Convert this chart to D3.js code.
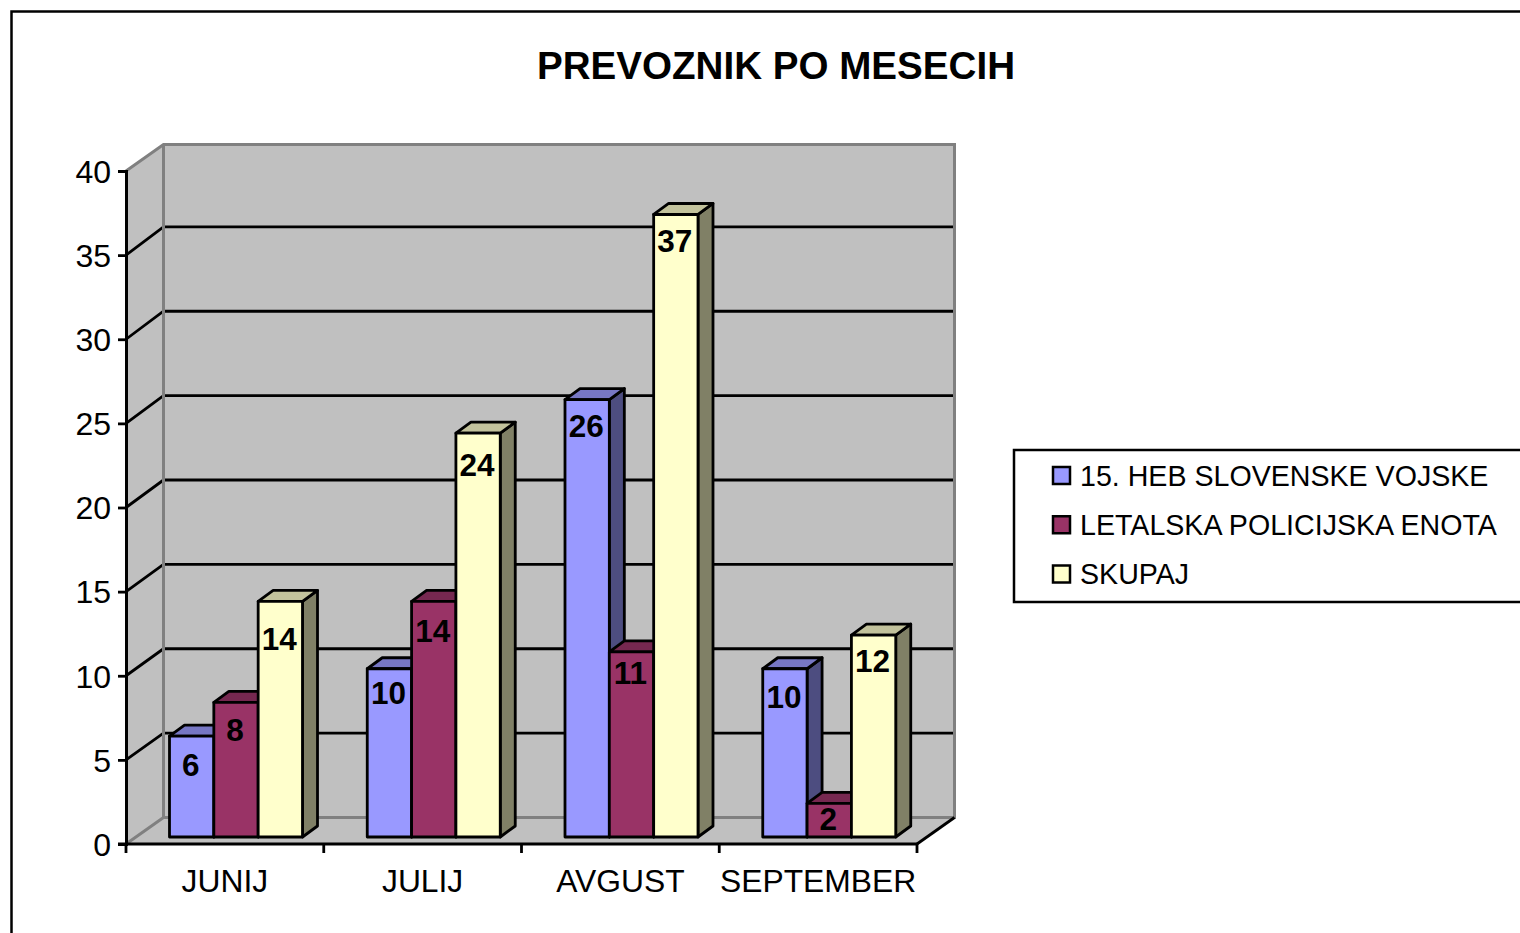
<!DOCTYPE html>
<html>
<head>
<meta charset="utf-8">
<script src="https://cdn.jsdelivr.net/npm/d3@7"></script>
<style>
  html, body { margin: 0; padding: 0; background: #fff; overflow: hidden; }
  text { font-family: "Liberation Sans", Arial, sans-serif; fill: #000; }
</style>
</head>
<body>
<div id="chart"></div>
<script>
var months = ["JUNIJ", "JULIJ", "AVGUST", "SEPTEMBER"];
var seriesNames = ["15. HEB SLOVENSKE VOJSKE", "LETALSKA POLICIJSKA ENOTA", "SKUPAJ"];
var heb = [6, 10, 26, 10];
var policija = [8, 14, 11, 2];
var skupaj = [14, 24, 37, 12];
var yTicks = [0, 5, 10, 15, 20, 25, 30, 35, 40];

function drawChart() {
    var width = 1520, height = 933;
    var seriesValues = [heb, policija, skupaj];

    var front = ["#9999ff", "#993366", "#ffffcc"];
    var topFace = ["#7777c4", "#762850", "#c2c29c"];
    var sideFace = ["#4d4d80", "#4d1a33", "#808066"];

    var svg = d3.select("#chart").append("svg")
        .attr("width", width)
        .attr("height", height)
        .style("display", "block");

    // outer chart border, runs off the right and bottom of the picture
    svg.append("path")
        .attr("d", "M11.5," + (height + 5) + "V11.5H" + (width + 5))
        .attr("fill", "none").attr("stroke", "#000").attr("stroke-width", 2.5);

    svg.append("text")
        .attr("x", 776).attr("y", 79)
        .attr("text-anchor", "middle")
        .attr("font-size", 38.6).attr("font-weight", "bold")
        .text("PREVOZNIK PO MESECIH");

    var x = d3.scaleBand().domain(months).range([126, 917]);
    var y = d3.scaleLinear().domain([0, 40]).range([844, 171]);
    // the back wall is not quite the same height as the axis in the original
    var yBack = d3.scaleLinear().domain([0, 40]).range([817.5, 142.5]);

    var wallDx = 37.5, wallTop = 144.5;
    var left = x.range()[0], right = x.range()[1];
    var backLeft = left + wallDx, backRight = right + wallDx;

    // walls and floor
    var poly = function (pts) { return "M" + pts.map(function (p) { return p.join(","); }).join("L") + "Z"; };
    svg.append("path")
        .attr("d", poly([[left, y(40)], [backLeft, wallTop], [backLeft, yBack(0)], [left, y(0)]]))
        .attr("fill", "#c0c0c0");
    svg.append("path")
        .attr("d", poly([[left, y(0)], [backLeft, yBack(0)], [backRight, yBack(0)], [right, y(0)]]))
        .attr("fill", "#c0c0c0");
    svg.append("rect")
        .attr("x", backLeft).attr("y", wallTop)
        .attr("width", right - left).attr("height", yBack(0) - wallTop)
        .attr("fill", "#c0c0c0");

    // gridlines, along the side wall and across the back wall
    var grid = yTicks.filter(function (t) { return t > 0 && t < 40; });
    svg.append("g").selectAll("path").data(grid).join("path")
        .attr("d", function (t) {
            return "M" + left + "," + y(t) + "L" + backLeft + "," + yBack(t) + "H" + backRight;
        })
        .attr("fill", "none").attr("stroke", "#000").attr("stroke-width", 2.8);

    // grey wall edges
    svg.append("path")
        .attr("d", "M" + left + "," + y(40) + "L" + backLeft + "," + wallTop +
            "H" + backRight + "V" + yBack(0) + "H" + backLeft + "V" + wallTop +
            "M" + left + "," + y(0) + "L" + backLeft + "," + yBack(0))
        .attr("fill", "none").attr("stroke", "#808080").attr("stroke-width", 3);
    svg.append("path")
        .attr("d", "M" + right + "," + y(0) + "L" + backRight + "," + yBack(0))
        .attr("fill", "none").attr("stroke", "#000").attr("stroke-width", 2.8);

    // bars sit a bit inside the floor and are 15 by 11 deep
    var barDy = -7, depthX = 15, depthY = -11;
    var sub = d3.scaleBand().domain(d3.range(3)).range([43.5, 176.5]);

    var bars = [];
    months.forEach(function (m, i) {
        seriesValues.forEach(function (vals, s) {
            bars.push({ month: m, s: s, value: vals[i] });
        });
    });

    var g = svg.append("g")
        .attr("stroke", "#000").attr("stroke-width", 2.8).attr("stroke-linejoin", "round");
    var bar = g.selectAll("g").data(bars).join("g");
    var bx = function (d) { return x(d.month) + sub(d.s); };
    var by = function (d) { return y(d.value) + barDy; };
    var base = y(0) + barDy;

    bar.append("path")
        .attr("fill", function (d) { return sideFace[d.s]; })
        .attr("d", function (d) {
            var r = bx(d) + sub.bandwidth();
            return poly([[r, by(d)], [r + depthX, by(d) + depthY], [r + depthX, base + depthY], [r, base]]);
        });
    bar.append("path")
        .attr("fill", function (d) { return topFace[d.s]; })
        .attr("d", function (d) {
            var r = bx(d) + sub.bandwidth();
            return poly([[bx(d), by(d)], [bx(d) + depthX, by(d) + depthY], [r + depthX, by(d) + depthY], [r, by(d)]]);
        });
    bar.append("rect")
        .attr("fill", function (d) { return front[d.s]; })
        .attr("x", bx)
        .attr("y", by)
        .attr("width", sub.bandwidth())
        .attr("height", function (d) { return base - by(d); });

    // value labels, the drop below each bar top differs by bar in the original
    var labelDrop = [29, 27, 37, 24, 29, 31, 26, 21, 26, 28, 15, 26];
    svg.append("g").selectAll("text").data(bars).join("text")
        .attr("x", function (d) { return bx(d) + sub.bandwidth() / 2 - 1; })
        .attr("y", function (d, i) { return by(d) + labelDrop[i]; })
        .attr("dy", "0.36em")
        .attr("text-anchor", "middle")
        .attr("font-size", 31.5).attr("font-weight", "bold")
        .text(function (d) { return d.value; });

    // axes
    var yAxis = d3.axisLeft(y).tickValues(yTicks).tickSize(8).tickPadding(7);
    var xAxis = d3.axisBottom(x).tickSize(0).tickPadding(25);

    var ya = svg.append("g").attr("transform", "translate(" + left + ",0)").call(yAxis);
    var xa = svg.append("g").attr("transform", "translate(0," + y(0) + ")").call(xAxis);
    xa.selectAll(".domain").remove();

    // ticks on the band edges rather than band centres
    svg.append("path")
        .attr("d", "M" + (left - 8) + "," + y(0) + "H" + right)
        .attr("stroke", "#000").attr("stroke-width", 3).attr("fill", "none");
    svg.append("g").selectAll("line").data(d3.range(5)).join("line")
        .attr("x1", function (i) { return left + i * x.step(); })
        .attr("x2", function (i) { return left + i * x.step(); })
        .attr("y1", y(0)).attr("y2", y(0) + 9)
        .attr("stroke", "#000").attr("stroke-width", 2.8);

    ya.select(".domain").attr("stroke-width", 3);
    ya.selectAll(".tick line").attr("stroke-width", 2.8);
    ya.selectAll("text").attr("font-size", 32).attr("y", 1);
    xa.selectAll("text").attr("font-size", 31.8);
    ya.attr("font-family", null);
    xa.attr("font-family", null);

    // legend
    svg.append("rect")
        .attr("x", 1014).attr("y", 450)
        .attr("width", 520).attr("height", 152)
        .attr("fill", "#fff").attr("stroke", "#000").attr("stroke-width", 2.5);
    var legendY = d3.scalePoint().domain(seriesNames).range([475.5, 574]);
    var item = svg.append("g").selectAll("g").data(seriesNames).join("g")
        .attr("transform", function (d) { return "translate(1053," + legendY(d) + ")"; });
    item.append("rect")
        .attr("x", 0).attr("y", -8.5).attr("width", 17).attr("height", 17)
        .attr("fill", function (d, i) { return front[i]; })
        .attr("stroke", "#000").attr("stroke-width", 2.5);
    item.append("text")
        .attr("x", 27).attr("dy", "0.36em")
        .attr("font-size", 28.6)
        .text(function (d) { return d; });
}
drawChart();
</script>
</body>
</html>
